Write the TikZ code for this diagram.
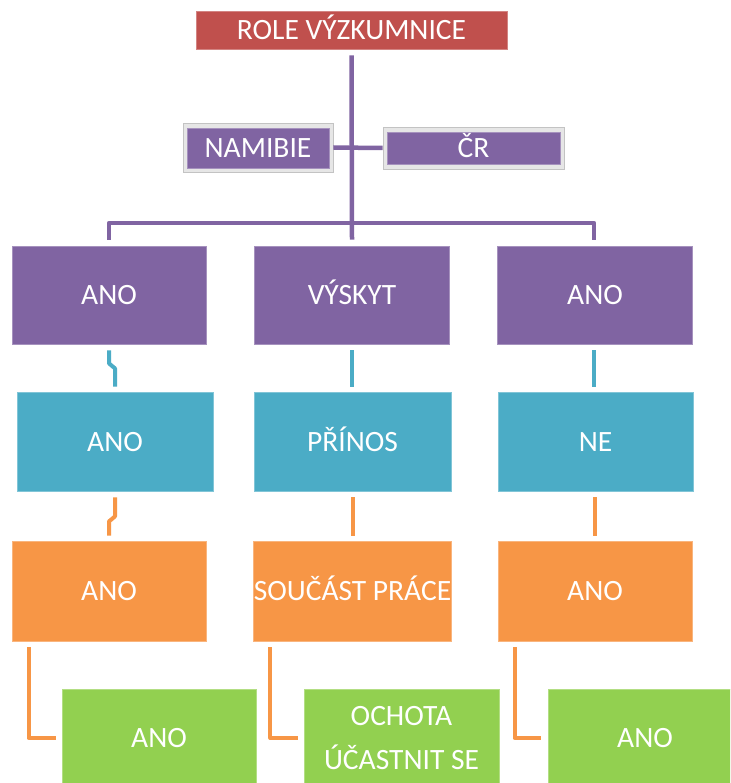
\documentclass[tikz,border=0pt]{standalone}
\usepackage{fontspec}
\setmainfont{Carlito}
\definecolor{cred}{HTML}{C0504D}
\definecolor{cpurple}{HTML}{8064A2}
\definecolor{cblue}{HTML}{4BACC6}
\definecolor{corange}{HTML}{F79646}
\definecolor{cgreen}{HTML}{92D050}
\definecolor{cgray}{HTML}{E6E6E6}
\tikzset{
  box/.style={rectangle, inner sep=0pt, text=white, align=center,
    font=\fontsize{29.5}{44}\selectfont, line width=0.8pt},
  cl/.style={text height=23pt, text depth=4pt},
  pbox/.style={box, fill=cpurple, draw=cpurple!70!white},
  bbox/.style={box, fill=cblue, draw=cblue!70!white},
  obox/.style={box, fill=corange, draw=corange!70!white},
  gbox/.style={box, fill=cgreen, draw=cgreen!70!white},
  graybox/.style={rectangle, inner sep=0pt, fill=cgray, draw=cgray!85!black, line width=0.6pt},
  pl/.style={draw=cpurple, line width=4.5pt, line join=round},
  bl/.style={draw=cblue, line width=4pt, line join=round},
  ol/.style={draw=corange, line width=4pt, line join=round},
}
\begin{document}
\begin{tikzpicture}[x=1pt,y=-1pt]
\clip (0,0) rectangle (730,783);
\useasboundingbox (0,0) rectangle (730,783);
\fill[white] (0,0) rectangle (730,783);

% top
\node[box, cl, fill=cred, draw=cred!70!white, minimum width=311pt, minimum height=38pt] (role) at (351.5,30) {ROLE VÝZKUMNICE};

\node[graybox, minimum width=150pt, minimum height=49pt] (nam) at (258,147.5) {};
\node[pbox, cl, minimum width=142pt, minimum height=40pt] (namin) at (258,148) {NAMIBIE};
\node[graybox, minimum width=181pt, minimum height=42pt] (cr) at (473.5,148) {};
\node[pbox, cl, minimum width=173pt, minimum height=32pt] (crin) at (473.5,148) {ČR};

% row 1
\node[pbox, cl, minimum width=194pt, minimum height=98pt] (p1) at (109,295) {ANO};
\node[pbox, cl, minimum width=195pt, minimum height=98pt] (p2) at (352,295) {VÝSKYT};
\node[pbox, cl, minimum width=195pt, minimum height=98pt] (p3) at (595,295) {ANO};
% row 2
\node[bbox, cl, minimum width=196pt, minimum height=99pt] (b1) at (115,441.5) {ANO};
\node[bbox, cl, minimum width=197pt, minimum height=99pt] (b2) at (352.5,441.5) {PŘÍNOS};
\node[bbox, cl, minimum width=195pt, minimum height=99pt] (b3) at (595.5,441.5) {NE};
% row 3
\node[obox, cl, minimum width=194pt, minimum height=100pt] (o1) at (109,591) {ANO};
\node[obox, cl, minimum width=195pt, minimum height=100pt] (o2) at (352.5,591) {SOUČÁST PRÁCE};
\node[obox, cl, minimum width=194pt, minimum height=100pt] (o3) at (595,591) {ANO};
% row 4
\node[gbox, cl, minimum width=194pt, minimum height=98pt] (g1) at (159,738) {ANO};
\node[gbox, minimum width=195pt, minimum height=98pt] (g2) at (401.5,738) {OCHOTA\\ÚČASTNIT SE};
\node[gbox, cl, minimum width=194pt, minimum height=98pt] (g3) at (645,738) {ANO};

% purple connectors
\coordinate (bus) at (352,223);
\draw[pl] ([yshift=-6pt]role.south) -- ([yshift=6pt]p2.north);
\draw[pl] (nam.east) -- (cr.west);
\draw[pl] (p1.north |- 109,240) |- (bus) -| ([xshift=-1pt,yshift=6pt]p3.north);

% blue connectors
\draw[bl] ([yshift=-6pt]p1.south) -- ++(0,13) -- ++(6,5) -- ([yshift=5pt]b1.north);
\draw[bl] ([yshift=-6pt]p2.south) -- ([yshift=5pt]p2.south |- b2.north);
\draw[bl] ([xshift=-1pt,yshift=-6pt]p3.south) -- ([xshift=-1pt,yshift=5pt]p3.south |- b3.north);

% orange connectors
\draw[ol] ([yshift=-6pt]b1.south) -- ++(0,19) -- ++(-6,5) -- ([yshift=5pt]o1.north);
\draw[ol] ([yshift=-6pt]b2.south) -- ([yshift=5pt]b2.south |- o2.north);
\draw[ol] ([xshift=-1pt,yshift=-6pt]b3.south) -- ([xshift=-1pt,yshift=5pt]b3.south |- o3.north);

\draw[ol] ([xshift=17pt,yshift=-6pt]o1.south west) |- ([xshift=-6pt]g1.west);
\draw[ol] ([xshift=17pt,yshift=-6pt]o2.south west) |- ([xshift=-6pt]g2.west);
\draw[ol] ([xshift=17pt,yshift=-6pt]o3.south west) |- ([xshift=-7pt]g3.west);
\end{tikzpicture}
\end{document}
